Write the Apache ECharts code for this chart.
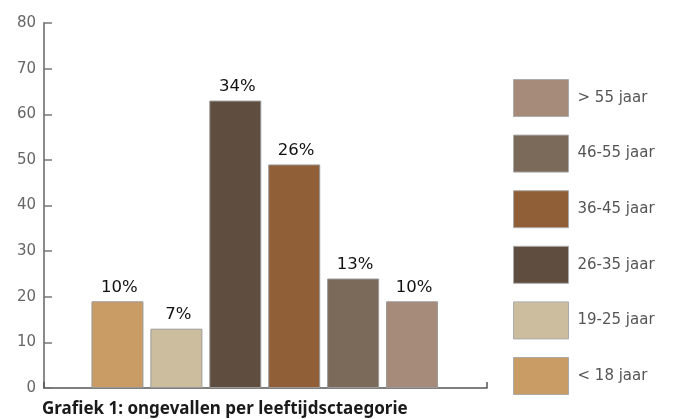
<!DOCTYPE html>
<html>
<head>
<meta charset="utf-8">
<script src="https://cdn.jsdelivr.net/npm/echarts@6/dist/echarts.min.js"></script>
<style>html,body{margin:0;padding:0;background:#fff}#c{width:677px;height:419px}</style>
</head>
<body>
<div id="c"></div>
<script>
const categories = ['< 18 jaar', '19-25 jaar', '26-35 jaar', '36-45 jaar', '46-55 jaar', '> 55 jaar'];
const values = [19, 13, 63, 49, 24, 19];
const pctLabels = ['10%', '7%', '34%', '26%', '13%', '10%'];
const colors = ['#c99c66', '#ccbd9f', '#5f4d40', '#905e37', '#7b6a59', '#a68a7a'];
const yTicks = [0, 10, 20, 30, 40, 50, 60, 70, 80];

const chart = echarts.init(document.getElementById('c'), null, {renderer: 'canvas'});
const FONT = '"DejaVu Sans", sans-serif';

const series = categories.map((name, i) => ({
  name: name,
  type: 'bar',
  stack: 'all',
  xAxisIndex: 1,
  yAxisIndex: 1,
  barWidth: 52,
  data: values.map((v, j) => j === i ? v : '-'),
  itemStyle: {color: colors[i], borderColor: '#9a9a9a', borderWidth: 1},
  label: {
    show: true, position: 'top', distance: 5, offset: [2, 0],
    formatter: p => pctLabels[p.dataIndex],
    fontFamily: FONT, fontSize: 16.5, color: '#111'
  }
}));

chart.setOption({
  animation: false,
  backgroundColor: '#fff',
  title: {
    text: 'Grafiek 1: ongevallen per leeftijdsctaegorie',
    left: 42, top: 401, padding: 0,
    textStyle: {fontFamily: '"Noto Sans", sans-serif', fontWeight: 'bold', fontSize: 17, lineHeight: 17, color: '#1a1a1a'}
  },
  legend: {
    orient: 'vertical',
    left: 513, top: 79, padding: 0,
    itemWidth: 55, itemHeight: 37, itemGap: 17.6,
    data: categories.slice().reverse(),
    icon: 'rect',
    textStyle: {fontFamily: FONT, fontSize: 15, color: '#555', padding: [5, 0, 0, 4], width: 83, overflow: 'truncate', ellipsis: ''},
    itemStyle: {borderColor: '#aaa', borderWidth: 1}
  },
  grid: [
    {left: 44, right: 190, top: 23, bottom: 31},
    {left: 88, right: 235.5, top: 23, bottom: 31}
  ],
  xAxis: [
    {
      type: 'value', gridIndex: 0, min: 0, max: 1, interval: 1,
      axisLine: {show: true, lineStyle: {color: '#555', width: 1.5}},
      axisTick: {show: true, inside: true, length: 6, lineStyle: {color: '#555', width: 1.5}},
      axisLabel: {show: false}, splitLine: {show: false}
    },
    {
      type: 'category', gridIndex: 1, data: categories,
      axisLine: {show: false}, axisTick: {show: false}, axisLabel: {show: false}
    }
  ],
  yAxis: [
    {
      type: 'value', gridIndex: 0, min: 0, max: 80, interval: 10,
      axisLine: {show: true, lineStyle: {color: '#8a8a8a', width: 2}},
      axisTick: {show: true, inside: true, length: 8, lineStyle: {color: '#777', width: 1.5}},
      axisLabel: {fontFamily: FONT, fontSize: 15, color: '#666', margin: 8,
        formatter: v => yTicks.includes(v) ? String(v) : ''},
      splitLine: {show: false}
    },
    {
      type: 'value', gridIndex: 1, min: 0, max: 80, interval: 10, show: false
    }
  ],
  series: series
});
</script>
</body>
</html>
